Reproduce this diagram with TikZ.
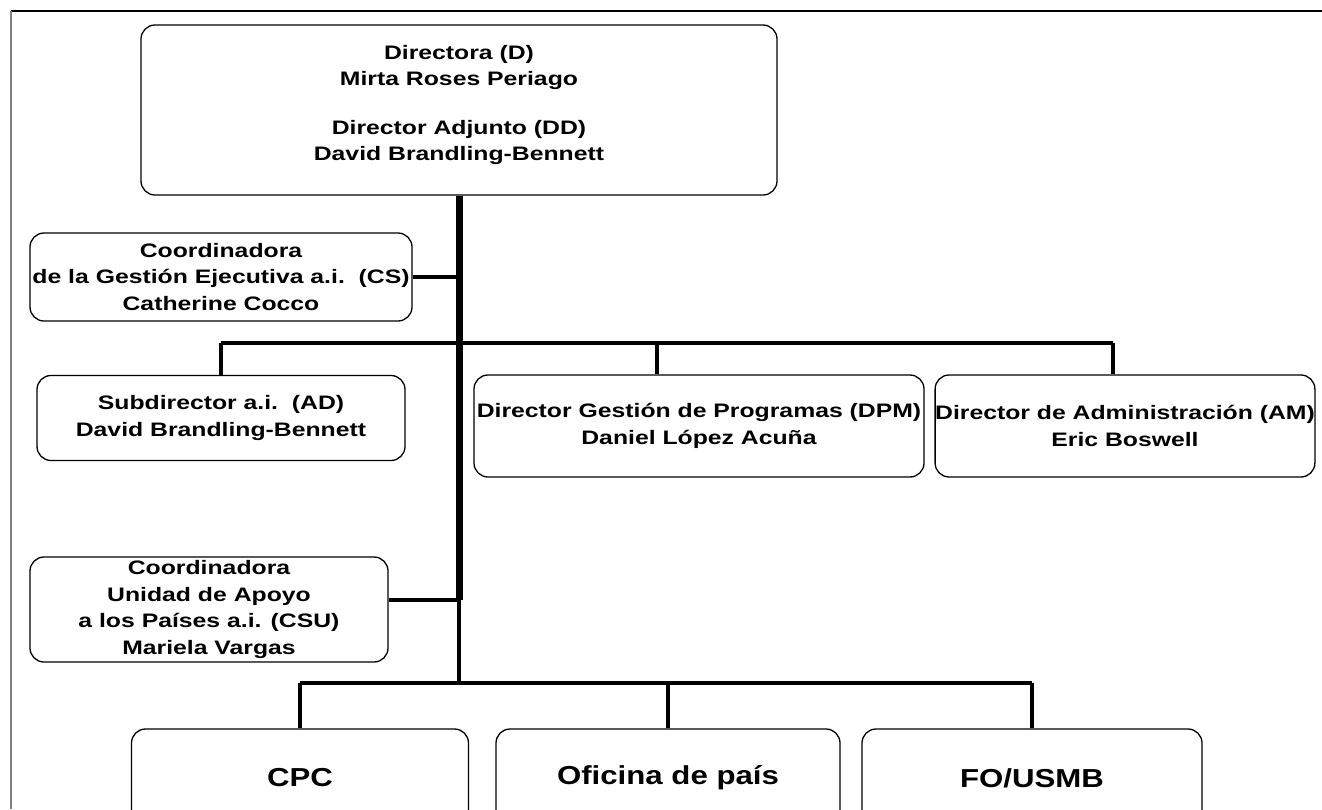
\documentclass[tikz,border=0pt]{standalone}
\usepackage{fontspec}
\setmainfont{Liberation Sans}
\newfontfamily\orgfont[FakeStretch=1.27]{Liberation Sans}
\newfontfamily\bigfont[FakeStretch=1.2]{Liberation Sans}
\tikzset{
  unit/.style={draw, line width=1.3pt, rounded corners=14pt, align=center, inner sep=0pt,
    font=\orgfont\bfseries\fontsize{19.5}{26.5}\selectfont},
  bigunit/.style={draw, line width=1.3pt, rounded corners=14pt, align=center, inner sep=0pt,
    font=\bigfont\bfseries\fontsize{26}{30}\selectfont},
  link/.style={line width=4pt},
  trunk/.style={line width=7pt}
}

\begin{document}
\begin{tikzpicture}[x=1pt,y=-1pt]
  %%%%% START %%%%%
  \useasboundingbox (0,0) rectangle (1322,809);
  \clip (0,0) rectangle (1322,809);

  \draw[line width=1.5pt] (11,11) -- (1322,11);
  \draw[line width=1.5pt, color=black!50] (11,11) -- (11,809);

  \node[unit, minimum width=636pt, minimum height=170pt, text depth=14pt] (dir) at (459,110)
    {Directora (D)\\Mirta Roses Periago\\[22pt]Director Adjunto (DD)\\David Brandling-Bennett};

  \node[unit, minimum width=382pt, minimum height=88pt] (cs) at (221,277)
    {Coordinadora\\de la Gestión Ejecutiva a.i.\ \ (CS)\\Catherine Cocco};
  \node[unit, minimum width=368pt, minimum height=85pt] (ad) at (221,418)
    {Subdirector a.i.\ \ (AD)\\David Brandling-Bennett};
  \node[unit, minimum width=450pt, minimum height=102pt] (dpm) at (699,426)
    {Director Gestión de Programas (DPM)\\Daniel López Acuña};
  \node[unit, minimum width=374pt, minimum height=102pt] (am) at (1125,426)
    {Director de Administración (AM)\\Eric Boswell};
  \node[unit, minimum width=358pt, minimum height=105pt] (csu) at (209,609.5)
    {Coordinadora\\Unidad de Apoyo\\a los Países a.i. (CSU)\\Mariela Vargas};

  \node[bigunit, minimum width=337pt, minimum height=98pt] (cpc) at (300,778) {CPC};
  \node[bigunit, minimum width=344pt, minimum height=98pt] (ofi) at (668,778) {Oficina de país};
  \node[bigunit, minimum width=340pt, minimum height=98pt] (fo) at (1032,778) {FO/USMB};

  \coordinate (bus) at (459,343);
  \coordinate (bus2) at (459,683);
  \coordinate (csulink) at ([yshift=9.5pt]csu.east);
  \coordinate (dpmtop) at ([xshift=-42pt]dpm.north);
  \coordinate (amtop) at ([xshift=-12pt]am.north);

  % trunk
  \draw[trunk] (dir.south) -- (dir.south |- csulink);
  \draw[line width=4.5pt] (dir.south |- csulink) -- (dir.south |- bus2);

  \draw[link] (cs.east) -- (cs.east -| dir.south);
  \draw[link] (csulink) -- (csulink -| dir.south);

  \draw[link] (ad.north |- bus) -- (amtop |- bus);
  \draw[link] (ad.north) -- (ad.north |- bus);
  \draw[link] (dpmtop) -- (dpmtop |- bus);
  \draw[link] (amtop) -- (amtop |- bus);

  \draw[link] (cpc.north |- bus2) -- (fo.north |- bus2);
  \draw[link] (cpc.north) -- (cpc.north |- bus2);
  \draw[link] (ofi.north) -- (ofi.north |- bus2);
  \draw[link] (fo.north) -- (fo.north |- bus2);
  %%%%% END %%%%%
\end{tikzpicture}
\end{document}
